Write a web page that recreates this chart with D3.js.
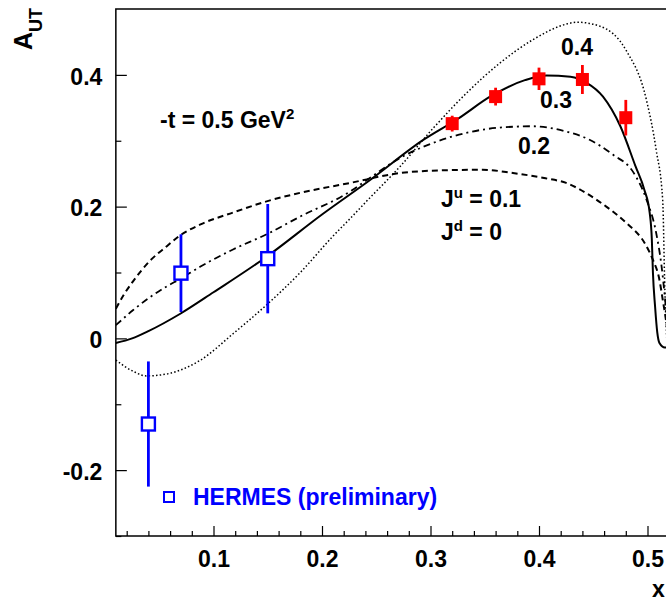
<!DOCTYPE html>
<html>
<head>
<meta charset="utf-8">
<script src="https://cdn.jsdelivr.net/npm/d3@7"></script>
<style>
  body { margin: 0; background: #fff; }
  svg { display: block; }
  text { font-family: "Liberation Sans", Arial, sans-serif; font-weight: bold; }
</style>
</head>
<body>
<svg id="chart"></svg>
<script>
// tick values
const xTicks = [0.1, 0.2, 0.3, 0.4, 0.5];
const xMinor = d3.range(0.02, 0.55, 0.02);
const yTicks = [-0.2, 0, 0.2, 0.4];
const yMinor = [-0.3, -0.1, 0.1, 0.3];

// model curves, labelled by J^u (J^d = 0)
const curveJu01 = [
  [0.010, 0.045], [0.018, 0.068], [0.026, 0.087], [0.041, 0.117], [0.057, 0.140], [0.069, 0.156],
  [0.088, 0.173], [0.118, 0.191], [0.149, 0.208], [0.180, 0.221], [0.226, 0.236],
  [0.272, 0.251], [0.309, 0.255], [0.348, 0.256], [0.376, 0.251], [0.406, 0.243],
  [0.425, 0.236], [0.443, 0.221], [0.462, 0.200], [0.480, 0.176], [0.499, 0.140],
  [0.505, 0.119], [0.511, 0.089], [0.514, 0.059], [0.517, 0.028], [0.52, -0.01]
];
const curveJu02 = [
  [0.010, 0.020], [0.026, 0.043], [0.041, 0.062], [0.057, 0.079], [0.069, 0.090],
  [0.088, 0.109], [0.118, 0.135], [0.149, 0.158], [0.180, 0.185], [0.226, 0.223],
  [0.241, 0.240], [0.272, 0.274], [0.303, 0.297], [0.333, 0.312], [0.364, 0.320],
  [0.394, 0.322], [0.425, 0.314], [0.446, 0.302], [0.468, 0.279], [0.487, 0.252],
  [0.499, 0.211], [0.508, 0.160], [0.513, 0.109], [0.516, 0.063], [0.518, 0.028],
  [0.521, -0.01]
];
const curveJu03 = [
  [0.010, -0.007], [0.025, 0.000], [0.040, 0.011], [0.069, 0.037], [0.100, 0.070], [0.149, 0.124],
  [0.200, 0.188], [0.244, 0.240], [0.294, 0.302], [0.325, 0.333], [0.356, 0.368],
  [0.387, 0.392], [0.407, 0.399], [0.429, 0.397], [0.444, 0.388], [0.459, 0.367],
  [0.475, 0.322], [0.489, 0.261], [0.497, 0.226], [0.502, 0.191], [0.504, 0.150],
  [0.505, 0.100], [0.507, 0.048], [0.509, 0.009], [0.511, -0.007], [0.516, -0.014],
  [0.52, -0.012]
];
const curveJu04 = [
  [0.010, -0.033], [0.026, -0.050], [0.038, -0.057], [0.057, -0.054], [0.088, -0.033],
  [0.118, 0.007], [0.149, 0.051], [0.180, 0.100], [0.210, 0.155], [0.226, 0.182],
  [0.241, 0.208], [0.272, 0.261], [0.303, 0.320], [0.333, 0.372], [0.364, 0.418],
  [0.394, 0.453], [0.425, 0.477], [0.435, 0.480], [0.456, 0.474], [0.480, 0.438],
  [0.499, 0.362], [0.508, 0.286], [0.514, 0.210], [0.516, 0.074], [0.518, -0.01]
];

// HERMES (preliminary)
const hermesX = [0.04, 0.07, 0.15];
const hermesY = [-0.13, 0.099, 0.121];
const hermesErr = [0.095, 0.059, 0.083];

// projected data
const projX = [0.32, 0.36, 0.40, 0.44, 0.48];
const projY = [0.326, 0.367, 0.394, 0.393, 0.335];
const projErr = [0.012, 0.0135, 0.017, 0.022, 0.027];

const width = 666, height = 601;
const pLeft = 115.85, pRight = 701.75, pTop = 9, pBottom = 536;
const fs = 23;

const svg = d3.select("#chart").attr("width", width).attr("height", height);

const x = d3.scaleLinear().domain([0.01, 0.55]).range([pLeft, pRight]);
const y = d3.scaleLinear().domain([-0.3, 0.5]).range([pBottom, pTop]);

const fmt = d => d === 0 ? "0" : d.toFixed(1);

svg.append("defs").append("clipPath").attr("id", "plotClip")
  .append("rect")
  .attr("x", pLeft).attr("y", pTop)
  .attr("width", pRight - pLeft).attr("height", pBottom - pTop);

// frame
svg.append("rect")
  .attr("x", pLeft).attr("y", pTop)
  .attr("width", pRight - pLeft).attr("height", pBottom - pTop)
  .attr("fill", "none").attr("stroke", "#000").attr("stroke-width", 1.5);

// axes, ticks pointing inward
const yAxis = svg.append("g")
  .attr("transform", `translate(${pLeft},0)`)
  .call(d3.axisLeft(y).tickValues(yTicks).tickSize(-11).tickPadding(13.5).tickFormat(fmt));
yAxis.selectAll("text").attr("font-size", fs).attr("dy", "0.4em").attr("fill", "#000");
yAxis.select(".domain").remove();

const yAxisMinor = svg.append("g")
  .attr("transform", `translate(${pLeft},0)`)
  .call(d3.axisLeft(y).tickValues(yMinor).tickSize(-5.5).tickFormat(""));
yAxisMinor.select(".domain").remove();

const xAxis = svg.append("g")
  .attr("transform", `translate(0,${pBottom})`)
  .call(d3.axisBottom(x).tickValues(xTicks).tickSize(-10).tickPadding(15).tickFormat(fmt));
xAxis.selectAll("text").attr("font-size", fs).attr("fill", "#000");
xAxis.select(".domain").remove();

const xAxisMinor = svg.append("g")
  .attr("transform", `translate(0,${pBottom})`)
  .call(d3.axisBottom(x).tickValues(xMinor.filter(v => Math.round(v * 100) % 10 !== 0))
    .tickSize(-5).tickFormat(""));
xAxisMinor.select(".domain").remove();

svg.selectAll(".tick line").attr("stroke", "#000").attr("stroke-width", 1.2);

// axis titles
const aut = svg.append("text")
  .attr("transform", "translate(32,50) rotate(-90)")
  .attr("font-size", 25);
aut.append("tspan").text("A");
aut.append("tspan").attr("font-size", 18).attr("dy", 10).text("UT");

svg.append("text").attr("x", 652).attr("y", 597).attr("font-size", 23).text("x");

// curves
const line = d3.line()
  .x(d => x(d[0])).y(d => y(d[1]))
  .curve(d3.curveMonotoneX);

const curves = svg.append("g").attr("clip-path", "url(#plotClip)");
const styles = [
  { data: curveJu01, dash: "6,4", w: 2 },
  { data: curveJu02, dash: "7,4,2,4", w: 1.8 },
  { data: curveJu03, dash: null, w: 2 },
  { data: curveJu04, dash: "1.5,2.2", w: 1.5 }
];
styles.forEach(s => {
  curves.append("path")
    .attr("d", line(s.data))
    .attr("fill", "none")
    .attr("stroke", "#000")
    .attr("stroke-width", s.w)
    .attr("stroke-dasharray", s.dash);
});

// HERMES points
const hermes = hermesX.map((v, i) => ({ x: v, y: hermesY[i], e: hermesErr[i] }));
const hg = svg.append("g");
hg.selectAll("line.err").data(hermes).enter().append("line")
  .attr("x1", d => x(d.x)).attr("x2", d => x(d.x))
  .attr("y1", d => y(d.y + d.e)).attr("y2", d => y(d.y - d.e))
  .attr("stroke", "#0000ff").attr("stroke-width", 2.8);
hg.selectAll("rect").data(hermes).enter().append("rect")
  .attr("x", d => x(d.x) - 6.5).attr("y", d => y(d.y) - 6.5)
  .attr("width", 13).attr("height", 13)
  .attr("fill", "#fff").attr("stroke", "#0000ff").attr("stroke-width", 2.4);

// projected points
const proj = projX.map((v, i) => ({ x: v, y: projY[i], e: projErr[i] }));
const pg = svg.append("g");
pg.selectAll("line").data(proj).enter().append("line")
  .attr("x1", d => x(d.x)).attr("x2", d => x(d.x))
  .attr("y1", d => y(d.y + d.e)).attr("y2", d => y(d.y - d.e))
  .attr("stroke", "#ff0000").attr("stroke-width", 2.8);
pg.selectAll("rect").data(proj).enter().append("rect")
  .attr("x", d => x(d.x) - 6.5).attr("y", d => y(d.y) - 6.5)
  .attr("width", 13).attr("height", 13)
  .attr("fill", "#ff0000");

// legend
svg.append("rect")
  .attr("x", 164).attr("y", 492).attr("width", 10).attr("height", 10)
  .attr("fill", "#fff").attr("stroke", "#0000ff").attr("stroke-width", 2);
svg.append("text").attr("x", 193).attr("y", 505).attr("font-size", fs)
  .attr("fill", "#0000ff").text("HERMES (preliminary)");

// annotations
const tlab = svg.append("text").attr("x", 160).attr("y", 128).attr("font-size", fs);
tlab.append("tspan").text("-t = 0.5 GeV");
tlab.append("tspan").attr("font-size", 15).attr("dy", -9).text("2");

const ju = svg.append("text").attr("x", 441).attr("y", 207).attr("font-size", fs);
ju.append("tspan").text("J");
ju.append("tspan").attr("font-size", 15).attr("dy", -9).text("u");
ju.append("tspan").attr("dy", 9).text(" = 0.1");

const jd = svg.append("text").attr("x", 441).attr("y", 240).attr("font-size", fs);
jd.append("tspan").text("J");
jd.append("tspan").attr("font-size", 15).attr("dy", -9).text("d");
jd.append("tspan").attr("dy", 9).text(" = 0");

const curveLabels = [
  { t: "0.4", x: 561, y: 55 },
  { t: "0.3", x: 540, y: 108 },
  { t: "0.2", x: 518, y: 154 }
];
svg.selectAll("text.clab").data(curveLabels).enter().append("text")
  .attr("class", "clab")
  .attr("x", d => d.x).attr("y", d => d.y)
  .attr("font-size", fs).text(d => d.t);
</script>
</body>
</html>
